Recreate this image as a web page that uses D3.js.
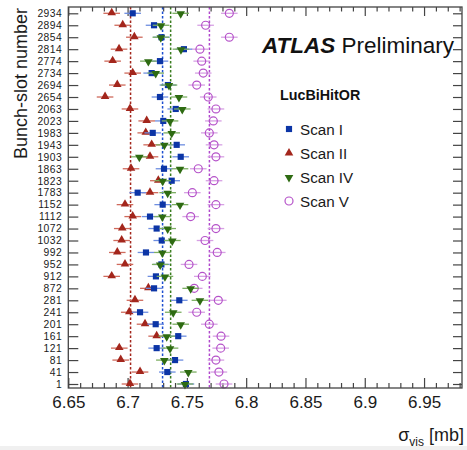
<!DOCTYPE html>
<html>
<head>
<meta charset="utf-8">
<script src="https://cdn.jsdelivr.net/npm/d3@7"></script>
<style>
  body { margin: 0; background: #fff; }
  svg { display: block; font-family: 'Liberation Sans', Arial, Helvetica, sans-serif; }
  .axis path { display: none; }
  .axis line { stroke: #444; stroke-width: 1.2; }
  .axis text { fill: #1a1a1a; font-family: 'Liberation Sans', Arial, Helvetica, sans-serif; }
</style>
</head>
<body>
<svg id="chart" width="467" height="450"></svg>
<script>
'use strict';

// bunch-slot numbers, top row first
var bunches = ['2934', '2894', '2854', '2814', '2774', '2734', '2694', '2654',
  '2063', '2023', '1983', '1943', '1903', '1863', '1823', '1783',
  '1152', '1112', '1072', '1032', '992', '952', '912', '872',
  '281', '241', '201', '161', '121', '81', '41', '1'];

var scanI = [6.7043, 6.7223, 6.7286, 6.7475, 6.7273, 6.7203, 6.7340, 6.7273,
  6.7406, 6.7301, 6.7212, 6.7414, 6.7448, 6.7307, 6.7372, 6.7085,
  6.7296, 6.7189, 6.7245, 6.7288, 6.7155, 6.7285, 6.7239, 6.7223,
  6.7436, 6.7105, 6.7237, 6.7427, 6.7245, 6.7400, 6.7335, 6.7492];

var scanII = [6.6866, 6.6959, 6.7057, 6.6928, 6.6874, 6.7043, 6.6913, 6.6810,
  6.7020, 6.7161, 6.7153, 6.7203, 6.7189, 6.7029, 6.7259, 6.7189,
  6.6978, 6.7043, 6.6955, 6.6950, 6.6913, 6.6978, 6.6866, 6.7175,
  6.7062, 6.7014, 6.7147, 6.7245, 6.6930, 6.6942, 6.7105, 6.7020];

var scanIV = [6.7448, 6.7282, 6.7280, 6.7450, 6.7175, 6.7237, 6.7349, 6.7433,
  6.7461, 6.7358, 6.7372, 6.7310, 6.7099, 6.7442, 6.7296, 6.7338,
  6.7442, 6.7293, 6.7338, 6.7377, 6.7293, 6.7275, 6.7315, 6.7532,
  6.7610, 6.7385, 6.7448, 6.7330, 6.7358, 6.7310, 6.7512, 6.7484];

var scanV = [6.7858, 6.7658, 6.7858, 6.7610, 6.7625, 6.7638, 6.7583, 6.7680,
  6.7745, 6.7723, 6.7689, 6.7729, 6.7745, 6.7596, 6.7729, 6.7546,
  6.7745, 6.7532, 6.7745, 6.7653, 6.7756, 6.7518, 6.7630, 6.7562,
  6.7765, 6.7583, 6.7689, 6.7788, 6.7785, 6.7745, 6.7770, 6.7813];

// scan averages (dotted lines), order: I, II, IV, V
var scanMeans = [6.7295, 6.7025, 6.7363, 6.7690];
var scanNames = ['Scan I', 'Scan II', 'Scan IV', 'Scan V'];
var xTicks = [6.65, 6.7, 6.75, 6.8, 6.85, 6.9, 6.95];
var errX = 0.007;

var svg = d3.select('#chart');
var frame = { left: 68.3, right: 462, top: 7, bottom: 388 };

var x = d3.scaleLinear().domain([6.65, 6.982]).range([frame.left, frame.right]);
var y = d3.scalePoint().domain(bunches).range([13.3, 384]);

var styles = [
  { shape: 'square', fill: '#0c35a6', stroke: '#0c35a6', err: '#6e8ee0', line: '#1d4fd0' },
  { shape: 'up', fill: '#a3261c', stroke: '#a3261c', err: '#cf6a5c', line: '#a3261c' },
  { shape: 'down', fill: '#2e6b12', stroke: '#2e6b12', err: '#7cae62', line: '#3a7d1f' },
  { shape: 'circle', fill: 'none', stroke: '#b552c9', err: '#d7a0e4', line: '#b048cc' }
];
var series = [scanI, scanII, scanIV, scanV];

var symbols = {
  square: d3.symbol().type(d3.symbolSquare).size(38),
  up: d3.symbol().type(d3.symbolTriangle).size(32),
  down: d3.symbol().type(d3.symbolTriangle).size(32),
  circle: d3.symbol().type(d3.symbolCircle).size(50)
};

function placeMarker(sel, st) {
  sel.attr('d', symbols[st.shape]())
    .attr('fill', st.shape === 'circle' ? '#fff' : st.fill)
    .attr('fill-opacity', st.shape === 'circle' ? 0 : 1)
    .attr('stroke', st.stroke)
    .attr('stroke-width', st.shape === 'circle' ? 1.2 : 0);
}

/* Axes */
var minors = [];
for (var k = 1; k < 34; k++) {
  var v = +(6.65 + k * 0.01).toFixed(2);
  if (xTicks.indexOf(v) < 0 && v < 6.982) minors.push(v);
}

svg.append('g').attr('class', 'axis')
  .attr('transform', 'translate(0,' + frame.bottom + ')')
  .call(d3.axisBottom(x).tickValues(xTicks).tickSize(-10).tickPadding(7)
    .tickFormat(function (d) { return String(d); }))
  .selectAll('text').style('font-size', '17px').attr('dy', '0.71em').attr('y', 8);

svg.append('g').attr('class', 'axis')
  .attr('transform', 'translate(0,' + frame.bottom + ')')
  .call(d3.axisBottom(x).tickValues(minors).tickSize(-5).tickFormat(''));

svg.append('g').attr('class', 'axis')
  .attr('transform', 'translate(0,' + frame.top + ')')
  .call(d3.axisTop(x).tickValues(xTicks).tickSize(-9).tickFormat(''));

svg.append('g').attr('class', 'axis')
  .attr('transform', 'translate(0,' + frame.top + ')')
  .call(d3.axisTop(x).tickValues(minors).tickSize(-4.5).tickFormat(''));

svg.append('g').attr('class', 'axis')
  .attr('transform', 'translate(' + frame.left + ',0)')
  .call(d3.axisLeft(y).tickSize(-10).tickPadding(6))
  .selectAll('text').style('font-size', '10.3px').style('letter-spacing', '0.5px');

svg.append('g').attr('class', 'axis')
  .attr('transform', 'translate(' + frame.right + ',0)')
  .call(d3.axisRight(y).tickSize(-9).tickFormat(''));

/* Mean lines */
svg.append('g').selectAll('line')
  .data(scanMeans)
  .enter().append('line')
  .attr('x1', function (d) { return x(d); })
  .attr('x2', function (d) { return x(d); })
  .attr('y1', frame.top)
  .attr('y2', frame.bottom)
  .attr('stroke', function (d, i) { return styles[i].line; })
  .attr('stroke-width', 1.5)
  .attr('stroke-dasharray', '2.5,2');

/* Points with horizontal errors */
var drawOrder = [3, 1, 0, 2];
drawOrder.forEach(function (s) {
  var st = styles[s];
  var g = svg.append('g');
  g.selectAll('line.err')
    .data(series[s])
    .enter().append('line')
    .attr('class', 'err')
    .attr('x1', function (d) { return x(d - errX); })
    .attr('x2', function (d) { return x(d + errX); })
    .attr('y1', function (d, i) { return y(bunches[i]); })
    .attr('y2', function (d, i) { return y(bunches[i]); })
    .attr('stroke', st.err)
    .attr('stroke-width', 1.3);
  g.selectAll('path.mark')
    .data(series[s])
    .enter().append('path')
    .attr('class', 'mark')
    .attr('transform', function (d, i) {
      var rot = st.shape === 'down' ? ' rotate(180)' : '';
      var dy = st.shape === 'up' ? -0.5 : (st.shape === 'down' ? 0.5 : 0);
      return 'translate(' + x(d) + ',' + (y(bunches[i]) + dy) + ')' + rot;
    })
    .call(placeMarker, st);
});

/* Frame */
svg.append('rect')
  .attr('x', frame.left).attr('y', frame.top)
  .attr('width', frame.right - frame.left).attr('height', frame.bottom - frame.top)
  .attr('fill', 'none').attr('stroke', '#444').attr('stroke-width', 1.3);

/* Titles */
svg.append('text')
  .attr('transform', 'translate(27,8) rotate(-90)')
  .attr('text-anchor', 'end')
  .style('font-size', '18px').attr('fill', '#1a1a1a')
  .text('Bunch-slot number');

var xt = svg.append('text')
  .attr('x', 464).attr('y', 441)
  .attr('text-anchor', 'end')
  .style('font-size', '18px').attr('fill', '#1a1a1a');
xt.append('tspan').text('σ');
xt.append('tspan').attr('dy', 5).style('font-size', '12px').text('vis');
xt.append('tspan').attr('dy', -5).text(' [mb]');

var atlas = svg.append('text')
  .attr('x', 262).attr('y', 53)
  .style('font-size', '22.5px').attr('fill', '#111');
atlas.append('tspan').style('font-weight', 'bold').style('font-style', 'italic').text('ATLAS');
atlas.append('tspan').text(' Preliminary');

svg.append('text')
  .attr('x', 280).attr('y', 100)
  .style('font-size', '14.3px').style('font-weight', 'bold').attr('fill', '#111')
  .text('LucBiHitOR');

/* Legend */
var legendRows = [129, 153, 177.5, 201];
var legend = svg.append('g').selectAll('g')
  .data(scanNames)
  .enter().append('g')
  .attr('transform', function (d, i) { return 'translate(289,' + legendRows[i] + ')'; });

legend.append('path')
  .each(function (d, i) {
    var st = styles[i];
    var sel = d3.select(this);
    placeMarker(sel, st);
    if (st.shape === 'down') sel.attr('transform', 'rotate(180)');
  });

legend.append('text')
  .attr('x', 11).attr('y', 5.5)
  .style('font-size', '15.2px').attr('fill', '#1a1a1a')
  .text(function (d) { return d; });

// grey strip at the very bottom of the screenshot
svg.append('rect')
  .attr('x', 0).attr('y', 446).attr('width', 467).attr('height', 4)
  .attr('fill', '#f0f0f0');
</script>
</body>
</html>
